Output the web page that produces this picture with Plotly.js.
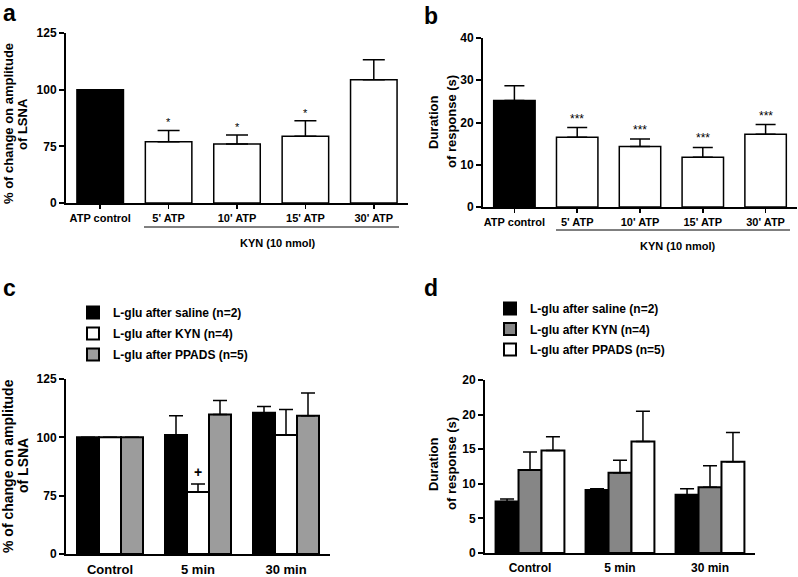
<!DOCTYPE html>
<html><head><meta charset="utf-8">
<script src="https://cdn.plot.ly/plotly-3.0.1.min.js"></script>
<style>html,body{margin:0;padding:0;background:#fff}</style>
</head><body><div id="chart" style="width:798px;height:577px"></div>
<script>
// ---------- data ----------
const categoriesAB = ["ATP control", "5' ATP", "10' ATP", "15' ATP", "30' ATP"];
const amplitudeA = [100, 77, 76, 79.4, 104.4];
const amplitudeErrA = [0, 5, 4, 6.9, 8.8];
const signifA = ["", "*", "*", "*", ""];
const durationB = [25.2, 16.5, 14.3, 11.8, 17.2];
const durationErrB = [3.5, 2.3, 1.8, 2.3, 2.3];
const signifB = ["", "***", "***", "***", "***"];
const groupLabel = "KYN (10 nmol)";

const categoriesCD = ["Control", "5 min", "30 min"];
const seriesNames = ["L-glu after saline (n=2)", "L-glu after KYN (n=4)", "L-glu after PPADS (n=5)"];
const salineC = [100, 101, 110.5];
const salineErrC = [0, 8.3, 2.7];
const kynC = [100, 76.6, 101];
const kynErrC = [0, 3.4, 10.9];
const ppadsC = [100, 109.8, 109.2];
const ppadsErrC = [0, 6.0, 9.8];
const signifC = ["", "+", ""]; // on KYN series

const salineD = [7.45, 9.1, 8.4];
const salineErrD = [0.35, 0.2, 0.9];
const kynD = [12.0, 11.6, 9.5];
const kynErrD = [2.6, 1.8, 3.1];
const ppadsD = [14.8, 16.1, 13.2];
const ppadsErrD = [2.0, 4.4, 4.2];

const brokenTickValues = [0, 75, 100, 125];
const durationTicksB = [0, 10, 20, 30, 40];
const durationTicksD = [0, 5, 10, 15, 20, 25];
const durationTickTextD = ["0", "5", "10", "15", "20", "20"];

// ---------- helpers ----------
// segmented axis (0-75 compressed to the same height as 75-100)
const seg = v => v <= 75 ? v / 3 : v - 50;
const segErr = (vals, errs) => vals.map((v, i) => seg(v + errs[i]) - seg(v));
const zeros = n => new Array(n).fill(0);
const W = 798, H = 577;
const px = x => x / W, py = y => 1 - y / H;
const FONT = 'Liberation Sans, Arial, Helvetica, sans-serif';

function errY(plus, cap, thick) {
  return {type: 'data', symmetric: false, array: plus, arrayminus: zeros(plus.length),
          color: '#000', thickness: thick, width: cap};
}

const traces = [];
// panel a
traces.push({type: 'bar', x: categoriesAB, y: amplitudeA.map(seg), xaxis: 'x', yaxis: 'y',
  width: 0.68, showlegend: false, hoverinfo: 'skip',
  marker: {color: categoriesAB.map((c, i) => i === 0 ? '#000' : '#fff'), line: {color: '#000', width: 1.5}},
  error_y: errY(segErr(amplitudeA, amplitudeErrA), 11, 1.5)});
// panel b
traces.push({type: 'bar', x: categoriesAB, y: durationB, xaxis: 'x2', yaxis: 'y2',
  width: 0.66, showlegend: false, hoverinfo: 'skip',
  marker: {color: categoriesAB.map((c, i) => i === 0 ? '#000' : '#fff'), line: {color: '#000', width: 1.5}},
  error_y: errY(durationErrB, 10, 1.5)});
// panel c
const colorsC = ['#000', '#fff', '#9c9c9c'];
const valsC = [salineC, kynC, ppadsC], errsC = [salineErrC, kynErrC, ppadsErrC];
const bwC = 0.25;
valsC.forEach((vals, k) => {
  traces.push({type: 'bar', name: seriesNames[k], x: categoriesCD, y: vals.map(seg),
    xaxis: 'x3', yaxis: 'y3', legend: 'legend', legendgroup: 'c' + k, hoverinfo: 'skip',
    width: bwC, offset: -1.5 * bwC + k * bwC,
    marker: {color: colorsC[k], line: {color: '#000', width: 2}},
    error_y: errY(segErr(vals, errsC[k]), 7, 1.5)});
});
// panel d
const colorsD = ['#000', '#868686', '#fff'];
const valsD = [salineD, kynD, ppadsD], errsD = [salineErrD, kynErrD, ppadsErrD];
const bwD = 0.255;
valsD.forEach((vals, k) => {
  traces.push({type: 'bar', name: seriesNames[k], x: categoriesCD, y: vals,
    xaxis: 'x4', yaxis: 'y4', legend: 'legend2', legendgroup: 'd' + k, hoverinfo: 'skip',
    width: bwD, offset: -1.5 * bwD + k * bwD,
    marker: {color: colorsD[k], line: {color: '#000', width: 2}},
    error_y: errY(errsD[k], 7, 1.5)});
});

function xAx(domain, anchor, n, opts) {
  return Object.assign({domain, anchor, type: 'category', range: [-0.5, n - 0.5],
    showline: true, linewidth: 2, linecolor: '#000', showgrid: false, zeroline: false,
    ticks: 'outside', ticklen: 4, tickwidth: 1.5, tickcolor: '#000',
    tickfont: {family: FONT, size: 11, weight: 'bold', color: '#000'}, fixedrange: true}, opts || {});
}
function yAx(domain, anchor, range, tickvals, ticktext, opts) {
  return Object.assign({domain, anchor, range, tickmode: 'array', tickvals, ticktext,
    showline: true, linewidth: 2, linecolor: '#000', showgrid: false, zeroline: false,
    ticks: 'outside', ticklen: 5, tickwidth: 2, tickcolor: '#000',
    tickfont: {family: FONT, size: 12, weight: 'bold', color: '#000'}, fixedrange: true}, opts || {});
}

const annotations = [];
function ann(o) { annotations.push(Object.assign({showarrow: false, font: {family: FONT, size: 11, weight: 'bold', color: '#000'}}, o)); }

// panel letters
[['a', 9, 28], ['b', 431, 31], ['c', 9, 303], ['d', 431, 303]].forEach(([t, x, y]) =>
  ann({text: t, xref: 'paper', yref: 'paper', x: px(x), y: py(y), xanchor: 'center', yanchor: 'bottom',
       font: {family: FONT, size: 23, weight: 'bold', color: '#000'}}));

// y titles (two lines each)
function yTitle(l1, l2, x1, x2, yc, size) {
  ann({text: l1, xref: 'paper', yref: 'paper', x: px(x1), y: py(yc), xanchor: 'center', yanchor: 'middle', textangle: -90,
       font: {family: FONT, size, weight: 'bold', color: '#000'}});
  ann({text: l2, xref: 'paper', yref: 'paper', x: px(x2), y: py(yc), xanchor: 'center', yanchor: 'middle', textangle: -90,
       font: {family: FONT, size, weight: 'bold', color: '#000'}});
}
yTitle('% of change on amplitude', 'of LSNA', 9, 23, 124, 13);
yTitle('Duration', 'of response (s)', 433, 451, 122, 13);
yTitle('% of change on amplitude', 'of LSNA', 8, 23, 466, 14);
yTitle('Duration', 'of response (s)', 433, 451, 464, 13);

// significance marks
categoriesAB.forEach((c, i) => {
  if (signifA[i]) ann({text: signifA[i], xref: 'x', yref: 'y', x: c, y: seg(amplitudeA[i] + amplitudeErrA[i]),
    yanchor: 'bottom', font: {family: FONT, size: 11, color: '#000'}});
  if (signifB[i]) ann({text: signifB[i], xref: 'x2', yref: 'y2', x: c, y: durationB[i] + durationErrB[i],
    yanchor: 'bottom', font: {family: FONT, size: 12, color: '#000'}});
});
categoriesCD.forEach((c, i) => {
  if (signifC[i]) ann({text: signifC[i], xref: 'x3', yref: 'y3', x: c, y: seg(kynC[i] + kynErrC[i]),
    yanchor: 'bottom', yshift: 2, font: {family: FONT, size: 14, weight: 'bold', color: '#000'}});
});

// KYN group labels
ann({text: groupLabel, xref: 'paper', yref: 'paper', x: px(278), y: py(243), xanchor: 'center', yanchor: 'middle'});
ann({text: groupLabel, xref: 'paper', yref: 'paper', x: px(678), y: py(246), xanchor: 'center', yanchor: 'middle'});

const shapes = [
  {type: 'line', xref: 'paper', yref: 'paper', x0: px(144), x1: px(399), y0: py(227), y1: py(227), line: {color: '#000', width: 1}},
  {type: 'line', xref: 'paper', yref: 'paper', x0: px(556), x1: px(790), y0: py(230), y1: py(230), line: {color: '#000', width: 1}}
];

const legendFont = {family: FONT, size: 12, weight: 'bold', color: '#000'};
const layout = {
  width: W, height: H, margin: {l: 0, r: 0, t: 0, b: 0},
  paper_bgcolor: '#fff', plot_bgcolor: 'rgba(0,0,0,0)',
  font: {family: FONT, color: '#000', size: 11},
  barmode: 'overlay', showlegend: true,
  xaxis: xAx([px(66), px(408)], 'y', 5),
  yaxis: yAx([py(203), py(33)], 'x', [0, 75], brokenTickValues.map(seg), brokenTickValues.map(String)),
  xaxis2: xAx([px(483), px(797)], 'y2', 5),
  yaxis2: yAx([py(207), py(38)], 'x2', [0, 40], durationTicksB, durationTicksB.map(String)),
  xaxis3: xAx([px(66), px(330)], 'y3', 3, {ticks: '', ticklen: 0, ticklabelstandoff: 2, tickfont: {family: FONT, size: 13, weight: 'bold', color: '#000'}}),
  yaxis3: yAx([py(554), py(379)], 'x3', [0, 75], brokenTickValues.map(seg), brokenTickValues.map(String)),
  xaxis4: xAx([px(485), px(755)], 'y4', 3, {ticks: '', ticklen: 0, ticklabelstandoff: 3, tickfont: {family: FONT, size: 12, weight: 'bold', color: '#000'}}),
  yaxis4: yAx([py(553), py(380)], 'x4', [0, 25], durationTicksD, durationTickTextD),
  legend: {x: px(73), y: py(298), xanchor: 'left', yanchor: 'top', font: legendFont, bgcolor: 'rgba(0,0,0,0)', traceorder: 'grouped', tracegroupgap: 2},
  legend2: {x: px(490), y: py(294), xanchor: 'left', yanchor: 'top', font: legendFont, bgcolor: 'rgba(0,0,0,0)', traceorder: 'grouped', tracegroupgap: 1.5},
  shapes, annotations
};

Plotly.newPlot('chart', traces, layout, {displayModeBar: false, staticPlot: true});
</script></body></html>
